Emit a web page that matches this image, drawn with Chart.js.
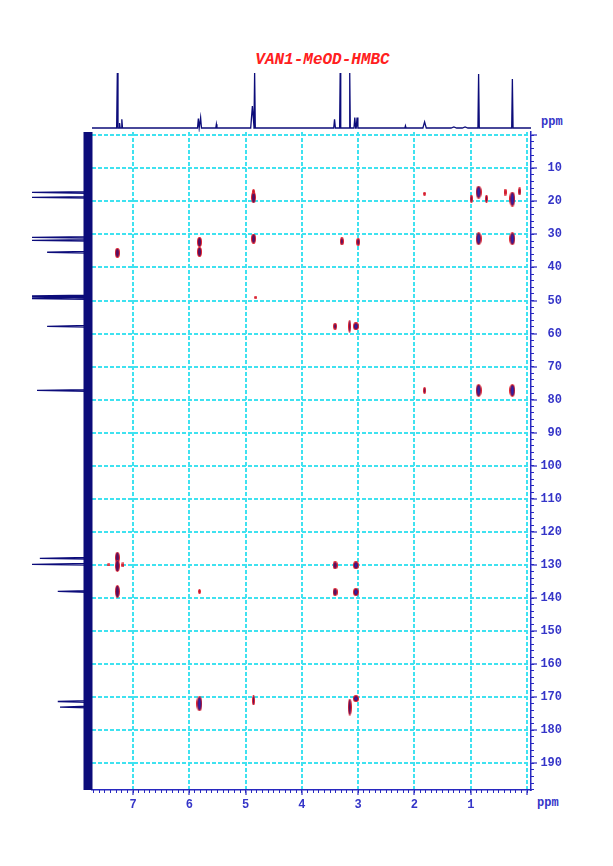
<!DOCTYPE html>
<html><head><meta charset="utf-8">
<script src="https://cdn.jsdelivr.net/npm/chart.js@4.4.1/dist/chart.umd.min.js"></script>
<style>
html,body{margin:0;padding:0;background:#fff;width:613px;height:866px;overflow:hidden}
#main{position:absolute;left:0;top:0}
#top{position:absolute;left:92px;top:66px}
#left{position:absolute;left:32px;top:132px}
.lbl{position:absolute;font-family:"Liberation Mono",monospace;font-weight:bold;color:#3535c8;font-size:12px;line-height:14px}
#title{position:absolute;left:0;width:645px;text-align:center;top:51px;font-family:"Liberation Mono",monospace;font-weight:bold;font-style:italic;font-size:16px;color:#ff2020}
</style></head><body>
<div id="title">VAN1-MeOD-HMBC</div>
<div class="lbl" style="left:541px;top:115px">ppm</div>
<div class="lbl" style="left:537px;top:796px">ppm</div>
<canvas id="main" width="613" height="866"></canvas>
<canvas id="top" width="439" height="66"></canvas>
<canvas id="left" width="62" height="658"></canvas>
<script>
// ---- axis ranges (ppm) ----
const H_MIN = -0.071, H_MAX = 7.73;      // 1H (F2)
const C_MIN = -0.98,  C_MAX = 198.08;    // 13C (F1)

// ---- tick labels ----
const hTicks = [0, 1, 2, 3, 4, 5, 6, 7];
const cTicks = [0, 10, 20, 30, 40, 50, 60, 70, 80, 90, 100, 110, 120, 130, 140, 150, 160, 170, 180, 190];
const hMinorStep = 0.1;
const cMinorStep = 2;

// ---- HMBC cross peaks ----
const peakH  = [7.28, 5.82, 5.82, 4.86, 4.86, 4.86, 3.29, 3.00, 1.82, 0.86, 0.99, 0.72, 0.39, 0.26, 0.13, 0.86, 0.26, 4.82, 3.41, 3.15, 3.04, 1.82, 0.86, 0.26, 7.28, 7.28, 7.43, 7.18, 7.28, 5.82, 3.41, 3.04, 3.41, 3.04, 5.82, 4.86, 3.15, 3.04];
const peakC  = [35.6, 32.3, 35.3, 18.8, 17.0, 31.3, 32.1, 32.3, 17.7, 17.2, 19.2, 19.2, 17.2, 19.3, 17.0, 31.3, 31.3, 49.0, 57.8, 57.8, 57.8, 77.2, 77.2, 77.2, 127.8, 130.3, 130.0, 130.0, 138.0, 138.0, 130.1, 130.1, 138.2, 138.2, 172.0, 171.0, 173.0, 170.4];
const peakDH = [0.08, 0.09, 0.09, 0.08, 0.05, 0.08, 0.07, 0.07, 0.04, 0.10, 0.06, 0.06, 0.06, 0.10, 0.06, 0.10, 0.10, 0.03, 0.07, 0.05, 0.11, 0.06, 0.10, 0.10, 0.08, 0.08, 0.03, 0.03, 0.08, 0.05, 0.09, 0.11, 0.09, 0.10, 0.10, 0.06, 0.07, 0.10];
const peakDC = [3.0, 3.0, 3.0, 3.5, 1.5, 3.0, 2.5, 2.5, 1.2, 4.0, 2.5, 2.5, 2.2, 4.5, 2.5, 4.0, 4.0, 1.0, 2.2, 4.0, 2.5, 2.0, 4.0, 4.0, 3.5, 3.5, 1.0, 1.5, 4.0, 1.5, 2.5, 2.5, 2.5, 2.5, 4.5, 3.0, 5.0, 2.2];
const peakLevel = [2, 2, 2, 2, 1, 2, 2, 2, 1, 2, 2, 2, 1, 2, 2, 2, 2, 1, 2, 2, 2, 2, 2, 2, 2, 2, 1, 1, 2, 1, 2, 2, 2, 2, 2, 2, 2, 2];

// ---- 1H projection (top) ----
const protonShift  = [7.28, 7.24, 7.20, 5.84, 5.80, 5.52, 4.88, 4.84, 3.42, 3.32, 3.15, 3.06, 3.02, 2.16, 1.82, 1.30, 1.10, 0.86, 0.26];
const protonHeight = [100, 9, 16, 17, 19, 7, 40, 100, 16, 100, 100, 19, 19, 4, 11, 2, 2, 98, 89];
const protonWidth  = [0.012, 0.01, 0.012, 0.015, 0.015, 0.01, 0.03, 0.012, 0.015, 0.01, 0.01, 0.015, 0.015, 0.01, 0.03, 0.05, 0.05, 0.012, 0.012];

// ---- 13C projection (left) ----
const carbonShift  = [17.3, 18.8, 30.9, 31.8, 35.4, 48.6, 49.0, 49.4, 57.8, 77.2, 128.0, 129.8, 138.0, 171.3, 173.0];
const carbonHeight = [100, 100, 100, 100, 73, 100, 100, 100, 73, 91, 86, 100, 54, 54, 50];
const carbonWidth = 0.25;

const BLUE = '#2828c0', CYAN = '#3fe2f0', LBL = '#3535c8';
const tickFont = {family: 'Liberation Mono', size: 12, weight: 'bold'};

function stepTicks(min, max, step) {
  const out = [];
  const start = Math.ceil(Math.max(0, min) / step);
  for (let k = start; k * step <= max + 1e-9; k++) out.push({value: +(k * step).toFixed(3)});
  return out;
}

function ellipseImage(w, h, level) {
  const W = Math.max(3, Math.round(w)), H = Math.max(3, Math.round(h));
  const c = document.createElement('canvas');
  c.width = W; c.height = H;
  const g = c.getContext('2d');
  const e = (inset, col) => {
    g.beginPath();
    g.ellipse(W / 2, H / 2, Math.max(0.5, W / 2 - inset), Math.max(0.5, H / 2 - inset), 0, 0, Math.PI * 2);
    g.fillStyle = col; g.fill();
  };
  e(0, '#e0202c');
  if (level > 1) { e(1, '#541062'); if (W > 5 && H > 6) e(2, '#2a24b0'); }
  else e(1, '#b81838');
  return c;
}

const common = {responsive: false, animation: false, events: [],
  plugins: {legend: {display: false}, tooltip: {enabled: false}, title: {display: false}}};

// ---- main 2D chart ----
new Chart(document.getElementById('main'), {
  type: 'scatter',
  data: {datasets: [{
    data: peakH.map((h, i) => ({x: h, y: peakC[i]})),
    pointRadius: 3,
    pointStyle: (ctx) => {
      const i = ctx.dataIndex, ch = ctx.chart;
      if (i === undefined || !ch.scales || !ch.scales.x) return 'circle';
      const sx = Math.abs(ch.scales.x.getPixelForValue(1) - ch.scales.x.getPixelForValue(0));
      const sy = Math.abs(ch.scales.y.getPixelForValue(10) - ch.scales.y.getPixelForValue(0)) / 10;
      return ellipseImage(peakDH[i] * sx, peakDC[i] * sy, peakLevel[i]);
    }
  }]},
  options: Object.assign({}, common, {
    layout: {padding: {left: 92, top: 132, right: 51, bottom: 0}},
    scales: {
      x: {type: 'linear', position: 'bottom', reverse: true, min: H_MIN, max: H_MAX, weight: 1,
        afterBuildTicks: s => { s.ticks = hTicks.map(v => ({value: v})); },
        afterFit: s => { s.height = 76; },
        ticks: {callback: v => v === 0 ? '' : String(v), color: LBL, font: tickFont, padding: 3, maxRotation: 0, autoSkip: false},
        grid: {color: CYAN, lineWidth: 2, tickColor: BLUE, tickLength: 5, tickWidth: 1.2},
        border: {display: true, color: BLUE, width: 1.5, dash: [4, 2]}},
      x2: {type: 'linear', position: 'bottom', reverse: true, min: H_MIN, max: H_MAX, weight: 0,
        afterBuildTicks: s => { s.ticks = stepTicks(H_MIN, H_MAX, hMinorStep); },
        afterFit: s => { s.height = 0; },
        ticks: {display: false},
        grid: {drawOnChartArea: false, tickColor: BLUE, tickLength: 3, tickWidth: 1},
        border: {display: false}},
      y: {type: 'linear', position: 'right', reverse: true, min: C_MIN, max: C_MAX, weight: 1,
        afterBuildTicks: s => { s.ticks = cTicks.map(v => ({value: v})); },
        afterFit: s => { s.width = 31; },
        ticks: {callback: v => v === 0 ? '' : String(v), color: LBL, font: tickFont, padding: 4, crossAlign: 'far', autoSkip: false},
        grid: {color: CYAN, lineWidth: 2, tickColor: BLUE, tickLength: 6, tickWidth: 1.2},
        border: {display: true, color: BLUE, width: 1.5, dash: [4, 2]}},
      y2: {type: 'linear', position: 'right', reverse: true, min: C_MIN, max: C_MAX, weight: 0,
        afterBuildTicks: s => { s.ticks = stepTicks(C_MIN, C_MAX, cMinorStep); },
        afterFit: s => { s.width = 0; },
        ticks: {display: false},
        grid: {drawOnChartArea: false, tickColor: BLUE, tickLength: 3, tickWidth: 1},
        border: {display: false}}
    }
  })
});

// ---- top 1H projection ----
const topIdx = protonShift.map((p, i) => i).sort((a, b) => protonShift[b] - protonShift[a]);
const topLine = [{x: H_MAX, y: 0}];
topIdx.forEach(i => {
  topLine.push({x: protonShift[i] + protonWidth[i], y: 0});
  topLine.push({x: protonShift[i], y: protonHeight[i]});
  topLine.push({x: protonShift[i] - protonWidth[i], y: 0});
});
topLine.push({x: H_MIN, y: 0});
new Chart(document.getElementById('top'), {
  type: 'scatter',
  data: {datasets: [{data: topLine, showLine: true, borderColor: '#0c0c7a', borderWidth: 1.3, pointRadius: 0, tension: 0}]},
  options: Object.assign({}, common, {
    layout: {padding: 0},
    scales: {x: {type: 'linear', display: false, reverse: true, min: H_MIN, max: H_MAX},
             y: {type: 'linear', display: false, min: -7.27, max: 112.7}}
  })
});

// ---- left 13C projection ----
const leftIdx = carbonShift.map((p, i) => i).sort((a, b) => carbonShift[a] - carbonShift[b]);
const leftLine = [{x: 0, y: C_MIN}];
leftIdx.forEach(i => {
  leftLine.push({x: 0, y: carbonShift[i] - carbonWidth});
  leftLine.push({x: carbonHeight[i], y: carbonShift[i]});
  leftLine.push({x: 0, y: carbonShift[i] + carbonWidth});
});
leftLine.push({x: 0, y: C_MAX});
new Chart(document.getElementById('left'), {
  type: 'scatter',
  data: {datasets: [
    {data: [{x: 0, y: C_MIN}, {x: 0, y: C_MAX}], showLine: true, borderColor: '#0c0c7a', borderWidth: 9, pointRadius: 0},
    {data: leftLine, showLine: true, borderColor: '#0c0c7a', borderWidth: 1.3, pointRadius: 0, tension: 0}
  ]},
  options: Object.assign({}, common, {
    layout: {padding: 0},
    scales: {x: {type: 'linear', display: false, reverse: true, min: -10.71, max: 100},
             y: {type: 'linear', display: false, reverse: true, min: C_MIN, max: C_MAX}}
  })
});
</script>
</body></html>
